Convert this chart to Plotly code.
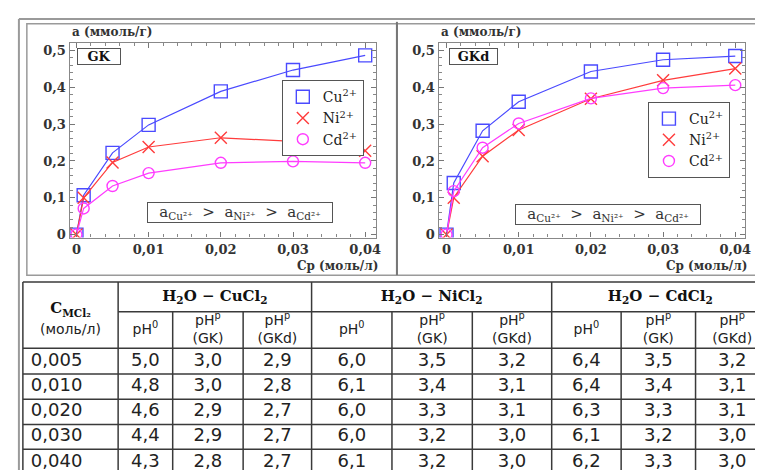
import plotly.graph_objects as go

W, H = 763, 470

# ---------------- data ----------------
cp = [0, 0.001, 0.005, 0.01, 0.02, 0.03, 0.04]
gk_cu = [0, 0.107, 0.222, 0.298, 0.389, 0.447, 0.487]
gk_ni = [0, 0.100, 0.196, 0.238, 0.263, 0.253, 0.228]
gk_cd = [0, 0.071, 0.132, 0.167, 0.195, 0.199, 0.195]
gkd_cu = [0, 0.140, 0.282, 0.361, 0.443, 0.475, 0.485]
gkd_ni = [0, 0.100, 0.213, 0.284, 0.369, 0.419, 0.451]
gkd_cd = [0, 0.118, 0.236, 0.302, 0.370, 0.398, 0.406]
ion_names = ["Cu<sup>2+</sup>", "Ni<sup>2+</sup>", "Cd<sup>2+</sup>"]
panel_names = ["GK", "GKd"]

conc = ["0,005", "0,010", "0,020", "0,030", "0,040"]
cu_ph0 = [5.0, 4.8, 4.6, 4.4, 4.3]
cu_gk = [3.0, 3.0, 2.9, 2.9, 2.8]
cu_gkd = [2.9, 2.8, 2.7, 2.7, 2.7]
ni_ph0 = [6.0, 6.1, 6.0, 6.0, 6.1]
ni_gk = [3.5, 3.4, 3.3, 3.2, 3.2]
ni_gkd = [3.2, 3.1, 3.1, 3.0, 3.0]
cd_ph0 = [6.4, 6.4, 6.3, 6.1, 6.2]
cd_gk = [3.5, 3.4, 3.3, 3.2, 3.3]
cd_gkd = [3.2, 3.1, 3.1, 3.0, 3.0]
group_titles = ["H<sub>2</sub>O − CuCl<sub>2</sub>", "H<sub>2</sub>O − NiCl<sub>2</sub>",
                "H<sub>2</sub>O − CdCl<sub>2</sub>"]
sub_titles = ["pH<sup>0</sup>", "pH<sup>p</sup><br>(GK)", "pH<sup>p</sup><br>(GKd)"]
first_col_title = "C<sub>MCl₂</sub>"
first_col_unit = "(моль/л)"

# ---------------- layout helpers (pixels) ----------------
def px(x):
    return x / W

def py(y):
    return 1 - y / H

colors = ["#4a4aff", "#ff3c3c", "#ff3cff"]
symbols = ["square-open", "x-thin-open", "circle-open"]
msizes = [13, 12, 11]

fig = go.Figure()

panels = [(gk_cu, gk_ni, gk_cd), (gkd_cu, gkd_ni, gkd_cd)]
for p, series in enumerate(panels):
    ax = "" if p == 0 else "2"
    for i, ys in enumerate(series):
        fig.add_trace(go.Scatter(
            x=cp, y=ys, mode="lines+markers", name=ion_names[i],
            xaxis="x" + ax, yaxis="y" + ax, showlegend=False,
            line=dict(color=colors[i], width=1.2),
            marker=dict(symbol=symbols[i], size=msizes[i], color=colors[i],
                        line=dict(color=colors[i], width=1.4)),
            hoverinfo="skip"))
    # legend entries (marker only, as in the reference legend)
    for i in range(3):
        fig.add_trace(go.Scatter(
            x=[None], y=[None], mode="markers", name=ion_names[i],
            xaxis="x" + ax, yaxis="y" + ax,
            legend="legend" if p == 0 else "legend2",
            marker=dict(symbol=symbols[i], size=msizes[i], color=colors[i],
                        line=dict(color=colors[i], width=1.4)),
            hoverinfo="skip"))

# ---------------- table ----------------
col_edges = [15, 111, 166, 237, 306, 387, 468, 548, 618, 693, 767]
row_edges = [344, 370, 395.5, 421, 446, 472]
centers = [(col_edges[k] + col_edges[k + 1]) / 2 for k in range(len(col_edges) - 1)]
row_c = [(row_edges[k] + row_edges[k + 1]) / 2 for k in range(len(row_edges) - 1)]

cols = [cu_ph0, cu_gk, cu_gkd, ni_ph0, ni_gk, ni_gkd, cd_ph0, cd_gk, cd_gkd]
tx, ty, tt = [], [], []
for c, vals in enumerate(cols):
    for r, v in enumerate(vals):
        tx.append(centers[c + 1])
        ty.append(row_c[r])
        tt.append(f"{v:.1f}".replace(".", ","))
fig.add_trace(go.Scatter(x=tx, y=ty, text=tt, mode="text", xaxis="x3", yaxis="y3",
                         textfont=dict(family="DejaVu Sans", size=18, color="#222"),
                         showlegend=False, hoverinfo="skip"))
fig.add_trace(go.Scatter(x=[col_edges[0] + 8] * len(conc), y=row_c, text=conc, mode="text",
                         textposition="middle right", xaxis="x3", yaxis="y3",
                         textfont=dict(family="DejaVu Sans", size=18, color="#222"),
                         showlegend=False, hoverinfo="skip"))
# sub headers
sx, sy, st = [], [], []
for g in range(3):
    for k in range(3):
        sx.append(centers[1 + g * 3 + k])
        sy.append(326)
        st.append(sub_titles[k])
fig.add_trace(go.Scatter(x=sx, y=sy, text=st, mode="text", xaxis="x3", yaxis="y3",
                         textfont=dict(family="DejaVu Sans", size=14, color="#222"),
                         showlegend=False, hoverinfo="skip"))
# group headers
gx = [(col_edges[1 + g * 3] + col_edges[4 + g * 3]) / 2 for g in range(3)]
fig.add_trace(go.Scatter(x=gx, y=[292] * 3, text=["<b>" + t + "</b>" for t in group_titles],
                         mode="text", xaxis="x3", yaxis="y3",
                         textfont=dict(family="DejaVu Serif", size=15, color="#111"),
                         showlegend=False, hoverinfo="skip"))
fig.add_trace(go.Scatter(x=[centers[0]], y=[305], text=["<b>" + first_col_title + "</b>"],
                         mode="text", xaxis="x3", yaxis="y3",
                         textfont=dict(family="DejaVu Serif", size=15, color="#111"),
                         showlegend=False, hoverinfo="skip"))
fig.add_trace(go.Scatter(x=[centers[0]], y=[326], text=[first_col_unit],
                         mode="text", xaxis="x3", yaxis="y3",
                         textfont=dict(family="DejaVu Sans", size=14, color="#222"),
                         showlegend=False, hoverinfo="skip"))

shapes = []
lc = "#3a3a3a"
# table horizontal lines
shapes.append(dict(type="line", xref="x3", yref="y3", x0=15, x1=770, y0=277, y1=277,
                   line=dict(color=lc, width=1.5)))
shapes.append(dict(type="line", xref="x3", yref="y3", x0=111, x1=770, y0=307, y1=307,
                   line=dict(color=lc, width=1.5)))
for y in row_edges[:-1]:
    shapes.append(dict(type="line", xref="x3", yref="y3", x0=15, x1=770, y0=y, y1=y,
                       line=dict(color=lc, width=1.5)))
# table vertical lines
for k, x in enumerate(col_edges[:-1]):
    top = 277 if k in (0, 1, 4, 7) else 307
    shapes.append(dict(type="line", xref="x3", yref="y3", x0=x, x1=x, y0=top, y1=475,
                       line=dict(color=lc, width=1.5)))
# outer frames (paper)
fc = "#9a9a9a"
shapes.append(dict(type="line", xref="paper", yref="paper", x0=px(11), x1=px(770),
                   y0=py(11), y1=py(11), line=dict(color=fc, width=2)))
shapes.append(dict(type="line", xref="paper", yref="paper", x0=px(11), x1=px(11),
                   y0=py(11), y1=py(475), line=dict(color=fc, width=2)))
shapes.append(dict(type="rect", xref="paper", yref="paper", x0=px(19), x1=px(392),
                   y0=py(16), y1=py(270), line=dict(color=fc, width=1.5)))
shapes.append(dict(type="rect", xref="paper", yref="paper", x0=px(392), x1=px(775),
                   y0=py(16), y1=py(270), line=dict(color=fc, width=1.5)))
shapes.append(dict(type="line", xref="paper", yref="paper", x0=px(392), x1=px(392),
                   y0=py(14), y1=py(270), line=dict(color="#777", width=2)))

# ---------------- annotations ----------------
ann = []
tfont = dict(family="DejaVu Serif", size=12, color="#333")
panel_px = [(62, 371), (434, 743)]
formula = "a<sub>Cu²⁺</sub>  &gt;  a<sub>Ni²⁺</sub>  &gt;  a<sub>Cd²⁺</sub>"
formula_box = [(140, 207), (511, 209)]
label_box = [(70, 49), (444, 49)]
for p in range(2):
    x0, x1 = panel_px[p]
    ann.append(dict(xref="paper", yref="paper", x=px(x0), y=py(24), xanchor="left",
                    yanchor="middle", showarrow=False, text="<b>a (ммоль/г)</b>", font=tfont))
    ann.append(dict(xref="paper", yref="paper", x=px(x1 + 4), y=py(261), xanchor="right",
                    yanchor="middle", showarrow=False, text="<b>Cp (моль/л)</b>", font=tfont))
    ann.append(dict(xref="paper", yref="paper", x=px(label_box[p][0]), y=py(label_box[p][1]),
                    xanchor="left", yanchor="middle", showarrow=False,
                    text="<b>" + panel_names[p] + "</b>", width=40 if p == 0 else 45, height=13,
                    bordercolor="#555", borderwidth=1, borderpad=1,
                    font=dict(family="DejaVu Serif", size=13, color="#111")))
    ann.append(dict(xref="paper", yref="paper", x=px(formula_box[p][0]), y=py(formula_box[p][1]),
                    xanchor="left", yanchor="middle", showarrow=False, text=formula,
                    width=182, height=17, bordercolor="#555", borderwidth=1, borderpad=1,
                    bgcolor="white",
                    font=dict(family="DejaVu Serif", size=15, color="#333")))

def axis_common(dom, rng, dtick, mdtick):
    return dict(domain=dom, range=rng, dtick=dtick, tick0=0, showgrid=False, zeroline=False,
                showline=True, linecolor="#888", linewidth=1.2, mirror="ticks",
                ticks="inside", ticklen=5, tickcolor="#777",
                minor=dict(dtick=mdtick, ticks="inside", ticklen=3, tickcolor="#888"),
                tickfont=dict(family="DejaVu Serif", size=13, color="#333", weight="bold"),
                fixedrange=True)

ydom = [py(232), py(35)]
fig.update_layout(
    width=W, height=H, margin=dict(l=0, r=0, t=0, b=0),
    paper_bgcolor="white", plot_bgcolor="white", separators=", ",
    font=dict(family="DejaVu Serif", color="#222"),
    xaxis=axis_common([px(62), px(371)], [-0.00096, 0.04151], 0.01, 0.002),
    yaxis=axis_common(ydom, [-0.008, 0.5215], 0.1, 0.02),
    xaxis2=dict(axis_common([px(434), px(743)], [-0.0011, 0.04137], 0.01, 0.002), anchor="y2"),
    yaxis2=dict(axis_common(ydom, [-0.008, 0.5215], 0.1, 0.02), anchor="x2"),
    xaxis3=dict(domain=[0, 1], range=[0, W], visible=False, anchor="y3", fixedrange=True),
    yaxis3=dict(domain=[0, py(274)], range=[470, 274], visible=False, anchor="x3", fixedrange=True),
    legend=dict(x=px(276), y=py(73), xanchor="left", yanchor="top", bgcolor="white",
                bordercolor="#555", borderwidth=1, itemwidth=30, tracegroupgap=0,
                font=dict(family="DejaVu Serif", size=14, color="#222")),
    legend2=dict(x=px(645), y=py(95), xanchor="left", yanchor="top", bgcolor="white",
                 bordercolor="#555", borderwidth=1, itemwidth=30, tracegroupgap=0,
                 font=dict(family="DejaVu Serif", size=14, color="#222")),
    shapes=shapes, annotations=ann,
)

fig.write_html("out.html")
